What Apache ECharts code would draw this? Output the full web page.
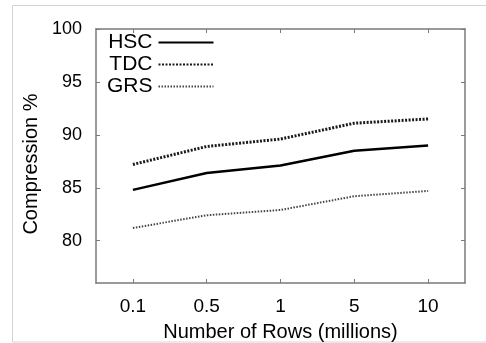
<!DOCTYPE html>
<html>
<head>
<meta charset="utf-8">
<script src="https://cdn.jsdelivr.net/npm/echarts@6/dist/echarts.min.js"></script>
<style>
  html, body { margin: 0; padding: 0; background: #fff; }
  #chart { width: 486px; height: 343px; }
</style>
</head>
<body>
<div id="chart"></div>
<script>
// Row counts (millions) on the x axis
const rowCounts = ['0.1', '0.5', '1', '5', '10'];
// Compression ratios (%) per method
const hscValues = [84.8, 86.4, 87.1, 88.5, 89.0];
const tdcValues = [87.2, 88.9, 89.6, 91.1, 91.5];
const grsValues = [81.2, 82.4, 82.9, 84.2, 84.7];
// Labelled ticks on the y axis
const yTicks = [80, 85, 90, 95, 100];

const FONT = '"Liberation Sans", Arial, sans-serif';
const TEXT_COLOR = '#000';
const AXIS_COLOR = '#7a7a7a';

const chart = echarts.init(document.getElementById('chart'), null, { renderer: 'canvas' });

const tickStyle = { show: true, inside: true, length: 4, lineStyle: { color: AXIS_COLOR, width: 1 } };

chart.setOption({
  animation: false,
  backgroundColor: '#ffffff',
  graphic: [
    {
      type: 'rect',
      shape: { x: 12.5, y: 5.5, width: 480, height: 336.5 },
      style: { fill: 'none', stroke: '#d4d4d4', lineWidth: 1 },
      silent: true
    }
  ],
  grid: { left: 96, right: 21, top: 29, bottom: 60, show: false, containLabel: false, outerBoundsMode: 'none' },
  legend: {
    left: 107,
    top: 32,
    orient: 'vertical',
    align: 'right',
    itemWidth: 55,
    itemHeight: 8,
    itemGap: 1,
    padding: 0,
    itemStyle: { opacity: 0 },
    textStyle: { fontFamily: FONT, fontSize: 21, color: TEXT_COLOR, padding: [0, 1, 0, 0] },
    data: ['HSC', 'TDC', 'GRS']
  },
  xAxis: [
    {
      type: 'category',
      data: rowCounts,
      boundaryGap: true,
      name: 'Number of Rows (millions)',
      nameLocation: 'middle',
      nameGap: 39,
      nameTextStyle: { fontFamily: FONT, fontSize: 20, color: TEXT_COLOR },
      axisLine: { show: true, lineStyle: { color: AXIS_COLOR, width: 1.5 } },
      axisTick: Object.assign({ alignWithLabel: true }, tickStyle),
      axisLabel: { fontFamily: FONT, fontSize: 19, color: TEXT_COLOR, margin: 14 },
      splitLine: { show: false }
    },
    {
      type: 'category',
      data: rowCounts,
      boundaryGap: true,
      position: 'top',
      axisLine: { show: true, lineStyle: { color: AXIS_COLOR, width: 1.5 } },
      axisTick: Object.assign({ alignWithLabel: true }, tickStyle),
      axisLabel: { show: false },
      splitLine: { show: false }
    }
  ],
  yAxis: [
    {
      type: 'value',
      min: 76,
      max: 100,
      name: 'Compression %',
      nameLocation: 'middle',
      nameGap: 54,
      nameTextStyle: { fontFamily: FONT, fontSize: 20, color: TEXT_COLOR, padding: [0, 16, 0, 0] },
      axisLine: { show: true, lineStyle: { color: AXIS_COLOR, width: 1.5 } },
      axisTick: Object.assign({ customValues: yTicks }, tickStyle),
      axisLabel: { customValues: yTicks, fontFamily: FONT, fontSize: 18, color: TEXT_COLOR, margin: 14 },
      splitLine: { show: false }
    },
    {
      type: 'value',
      min: 76,
      max: 100,
      position: 'right',
      axisLine: { show: true, lineStyle: { color: AXIS_COLOR, width: 1.5 } },
      axisTick: Object.assign({ customValues: yTicks }, tickStyle),
      axisLabel: { show: false },
      splitLine: { show: false }
    }
  ],
  series: [
    {
      name: 'HSC',
      type: 'line',
      data: hscValues,
      symbol: 'none',
      lineStyle: { color: '#000', width: 2.5, type: 'solid' },
      itemStyle: { color: '#000' }
    },
    {
      name: 'TDC',
      type: 'line',
      data: tdcValues,
      symbol: 'none',
      lineStyle: { color: '#1a1a1a', width: 3, type: [2, 1.5] },
      itemStyle: { color: '#1a1a1a' }
    },
    {
      name: 'GRS',
      type: 'line',
      data: grsValues,
      symbol: 'none',
      lineStyle: { color: '#444', width: 2, type: [1.5, 1.5] },
      itemStyle: { color: '#444' }
    }
  ]
});
</script>
</body>
</html>
